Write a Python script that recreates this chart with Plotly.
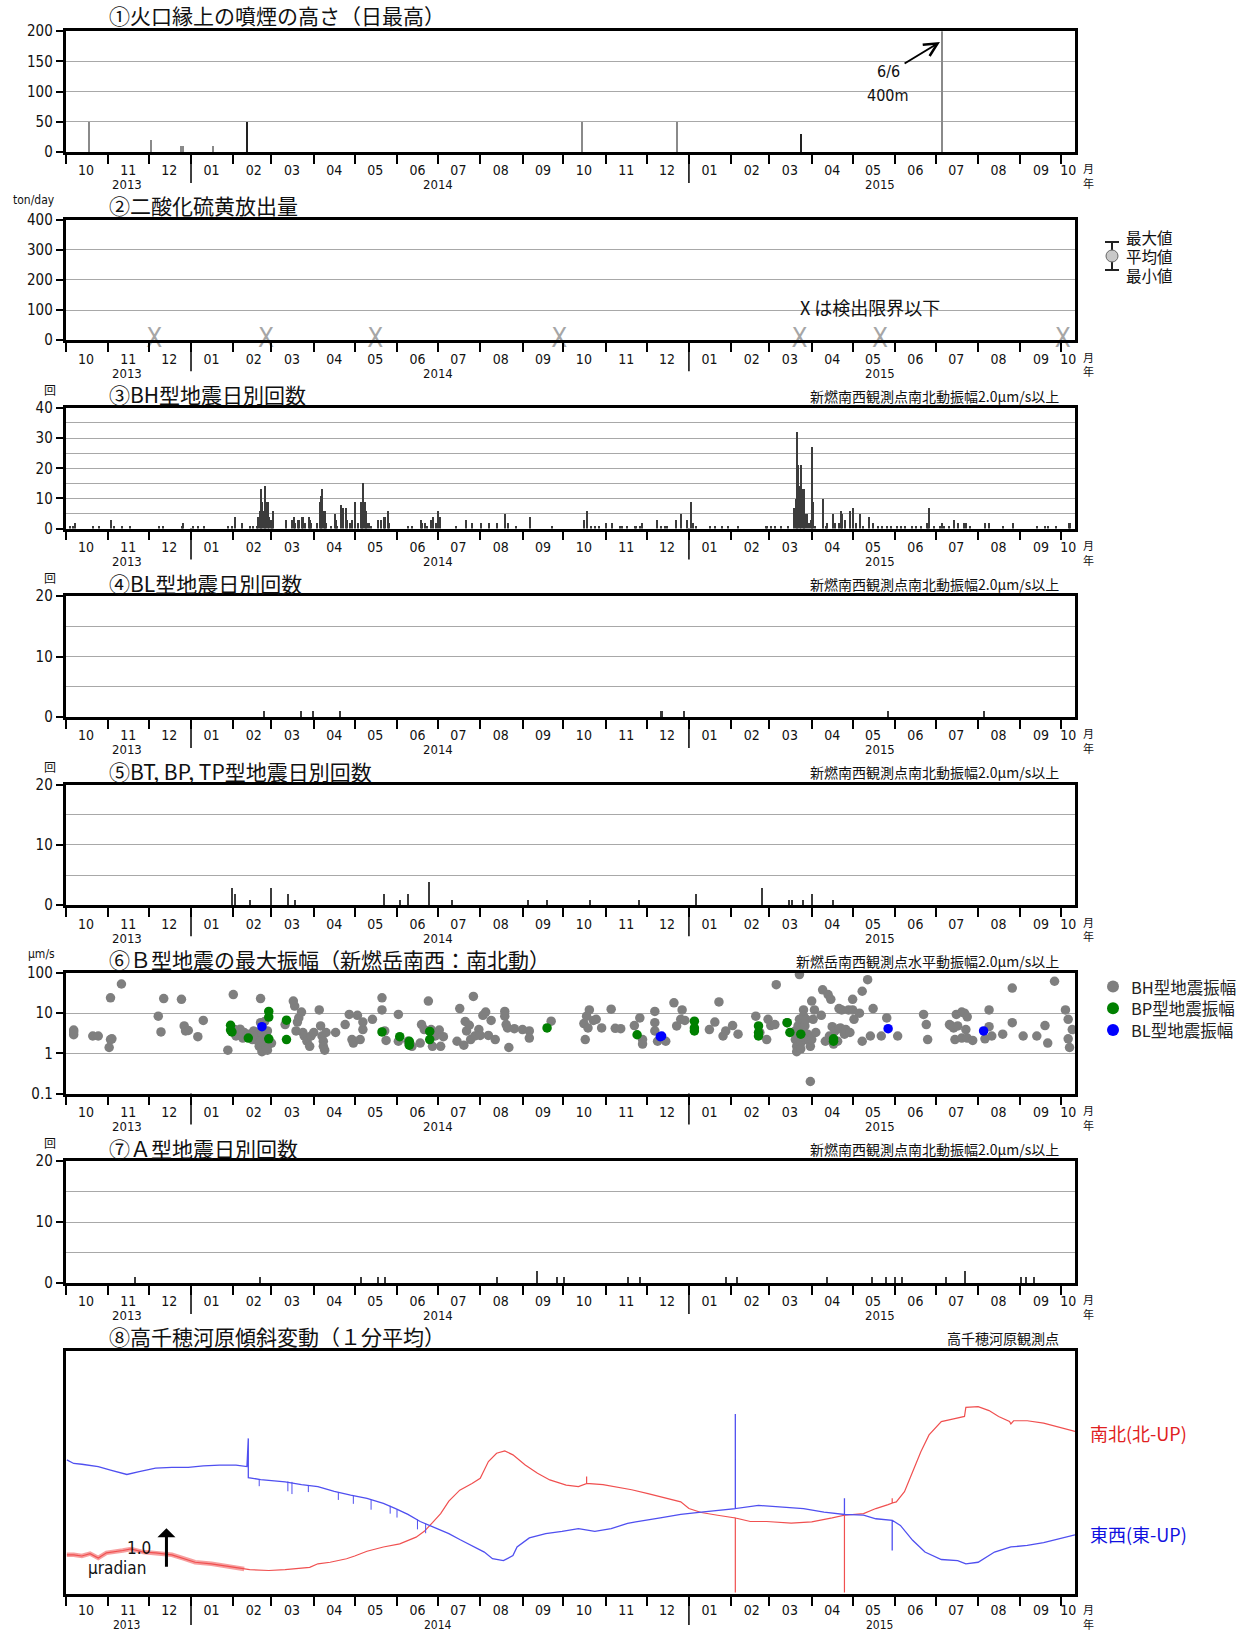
import plotly.graph_objects as go
import pandas as pd

# ---------------- axis / labels ----------------
X_RANGE = ["2013-10-01", "2015-10-11"]
MONTH_STARTS = [d.strftime("%Y-%m-%d") for d in pd.date_range("2013-10-01", "2015-10-01", freq="MS")]
MONTH_MIDS = [d.strftime("%Y-%m-16") for d in pd.date_range("2013-10-01", "2015-09-01", freq="MS")] + ["2015-10-06"]
MONTH_LABELS = [d.strftime("%m") for d in pd.date_range("2013-10-01", "2015-10-01", freq="MS")]
YEAR_LABELS = ["2013", "2014", "2015"]
YEAR_LABEL_DATES = ["2013-11-15", "2014-07-01", "2015-05-21"]
YEAR_BOUNDS = ["2014-01-01", "2015-01-01"]

TITLES = ["①火口縁上の噴煙の高さ（日最高）", "②二酸化硫黄放出量", "③BH型地震日別回数", "④BL型地震日別回数",
          "⑤BT, BP, TP型地震日別回数", "⑥Ｂ型地震の最大振幅（新燃岳南西：南北動）", "⑦Ａ型地震日別回数",
          "⑧高千穂河原傾斜変動（１分平均）"]
SUBTITLES = ["", "", "新燃南西観測点南北動振幅2.0μm/s以上", "新燃南西観測点南北動振幅2.0μm/s以上",
             "新燃南西観測点南北動振幅2.0μm/s以上", "新燃岳南西観測点水平動振幅2.0μm/s以上",
             "新燃南西観測点南北動振幅2.0μm/s以上", "高千穂河原観測点"]
UNITS = ["", "ton/day", "回", "回", "回", "μm/s", "回", ""]
UNIT_X = [0, 34, 50, 50, 50, 42, 50, 0]
AMP_LEGEND = ["BH型地震振幅", "BP型地震振幅", "BL型地震振幅"]
AMP_COLORS = ["#7f7f7f", "#008000", "#0000ff"]

# ---------------- ① plume height ----------------
PLUME_DATES = ["2013-10-18", "2013-12-02", "2013-12-24", "2013-12-26", "2014-01-17", "2014-02-11",
               "2014-10-14", "2014-12-23", "2015-03-24", "2015-07-05"]
PLUME_HEIGHTS = [50, 20, 10, 10, 10, 50, 50, 50, 30, 400]
PLUME_DARK = [False, False, False, False, False, True, False, False, True, False]

# ---------------- ② SO2 (below detection limit) ----------------
SO2_ND_DATES = ["2013-12-05", "2014-02-25", "2014-05-16", "2014-09-28", "2015-03-23", "2015-05-21", "2015-10-02"]

# ---------------- ③ BH daily counts ----------------
BH_DATES = ["2013-10-04", "2013-10-06", "2013-10-08", "2013-10-21", "2013-10-25", "2013-11-03", "2013-11-05",
            "2013-11-11", "2013-11-17", "2013-12-08", "2013-12-11", "2013-12-25", "2013-12-26", "2014-01-02",
            "2014-01-06", "2014-01-10", "2014-01-28", "2014-01-31", "2014-02-02", "2014-02-07", "2014-02-13",
            "2014-02-15", "2014-02-18", "2014-02-19", "2014-02-20", "2014-02-21", "2014-02-22", "2014-02-23",
            "2014-02-24", "2014-02-25", "2014-02-26", "2014-02-27", "2014-02-28", "2014-03-01", "2014-03-02",
            "2014-03-11", "2014-03-16", "2014-03-17", "2014-03-18", "2014-03-20", "2014-03-21", "2014-03-23",
            "2014-03-24", "2014-03-25", "2014-03-28", "2014-03-29", "2014-03-30", "2014-04-03", "2014-04-05",
            "2014-04-06", "2014-04-07", "2014-04-08", "2014-04-09", "2014-04-10", "2014-04-13", "2014-04-16",
            "2014-04-17", "2014-04-18", "2014-04-21", "2014-04-22", "2014-04-24", "2014-04-25", "2014-04-27",
            "2014-04-29", "2014-05-01", "2014-05-03", "2014-05-05", "2014-05-06", "2014-05-07", "2014-05-08",
            "2014-05-09", "2014-05-10", "2014-05-11", "2014-05-13", "2014-05-18", "2014-05-20", "2014-05-22",
            "2014-05-23", "2014-05-25", "2014-05-26", "2014-06-09", "2014-06-12", "2014-06-18", "2014-06-19",
            "2014-06-21", "2014-06-23", "2014-06-26", "2014-06-27", "2014-06-29", "2014-07-01", "2014-07-02",
            "2014-07-14", "2014-07-21", "2014-07-26", "2014-08-01", "2014-08-07", "2014-08-13", "2014-08-19",
            "2014-08-21", "2014-08-27", "2014-09-06", "2014-09-22", "2014-10-16", "2014-10-18", "2014-10-21",
            "2014-10-24", "2014-10-27", "2014-11-01", "2014-11-05", "2014-11-11", "2014-11-13", "2014-11-16",
            "2014-11-22", "2014-11-23", "2014-11-26", "2014-11-27", "2014-12-08", "2014-12-11", "2014-12-14",
            "2014-12-16", "2014-12-22", "2014-12-26", "2014-12-30", "2015-01-02", "2015-01-04", "2015-01-06",
            "2015-01-16", "2015-01-20", "2015-01-25", "2015-01-29", "2015-02-06", "2015-02-26", "2015-02-27",
            "2015-03-02", "2015-03-05", "2015-03-09", "2015-03-14", "2015-03-19", "2015-03-20", "2015-03-21",
            "2015-03-22", "2015-03-23", "2015-03-24", "2015-03-25", "2015-03-26", "2015-03-27", "2015-03-28",
            "2015-03-30", "2015-03-31", "2015-04-01", "2015-04-02", "2015-04-03", "2015-04-09", "2015-04-11",
            "2015-04-12", "2015-04-16", "2015-04-18", "2015-04-21", "2015-04-22", "2015-04-23", "2015-04-25",
            "2015-04-29", "2015-05-01", "2015-05-03", "2015-05-06", "2015-05-08", "2015-05-13", "2015-05-16",
            "2015-05-19", "2015-05-22", "2015-05-26", "2015-05-29", "2015-06-02", "2015-06-05", "2015-06-08",
            "2015-06-13", "2015-06-16", "2015-06-20", "2015-06-24", "2015-06-25", "2015-06-26", "2015-06-29",
            "2015-07-04", "2015-07-05", "2015-07-07", "2015-07-10", "2015-07-14", "2015-07-17", "2015-07-21",
            "2015-07-23", "2015-07-26", "2015-08-06", "2015-08-09", "2015-08-19", "2015-08-26", "2015-09-13",
            "2015-09-19", "2015-09-21", "2015-09-27", "2015-10-06", "2015-10-07"]
BH_COUNTS = [1, 1, 2, 1, 1, 3, 1,
             1, 1, 1, 1, 1, 2, 1,
             1, 1, 1, 1, 4, 2, 1,
             1, 1, 4, 6, 13, 9, 6,
             14, 9, 9, 4, 3, 2, 6,
             3, 3, 4, 2, 3, 3, 4,
             4, 2, 4, 3, 2, 2, 9,
             11, 13, 6, 6, 2, 1, 5,
             3, 1, 8, 7, 7, 3, 2,
             3, 9, 2, 9, 8, 15, 9,
             6, 2, 2, 1, 3, 3, 4,
             4, 6, 2, 1, 1, 3, 2,
             2, 1, 3, 4, 2, 6, 4,
             1, 3, 2, 2, 2, 2, 5,
             2, 1, 4, 1, 3, 6, 1,
             1, 1, 2, 2, 1, 1, 1,
             1, 1, 1, 2, 3, 1, 1,
             1, 3, 5, 3, 9, 2, 1,
             1, 1, 1, 1, 1, 1, 1,
             1, 1, 1, 1, 7, 10, 32,
             21, 14, 21, 13, 13, 5, 5,
             2, 3, 27, 9, 1, 10, 1,
             2, 5, 2, 2, 6, 5, 3,
             6, 7, 2, 5, 1, 4, 2,
             1, 1, 1, 1, 1, 1, 1,
             1, 1, 1, 2, 1, 7, 1,
             1, 2, 1, 1, 3, 2, 2,
             2, 1, 2, 2, 1, 2, 1,
             1, 1, 1, 2, 2]

# ---------------- ④ BL daily counts ----------------
BL_DATES = ["2014-02-23", "2014-03-22", "2014-03-31", "2014-04-20", "2014-12-11", "2014-12-12",
            "2014-12-28", "2015-05-27", "2015-08-05"]
BL_COUNTS = [1, 1, 1, 1, 1, 1, 1, 1, 1]

# ---------------- ⑤ BT/BP/TP daily counts ----------------
BT_DATES = ["2014-01-31", "2014-02-02", "2014-02-13", "2014-02-28", "2014-03-13", "2014-03-18", "2014-05-22",
            "2014-06-03", "2014-06-09", "2014-06-24", "2014-07-11", "2014-09-05", "2014-09-19", "2014-10-20",
            "2014-11-25", "2015-01-06", "2015-02-23", "2015-03-15", "2015-03-17", "2015-03-25", "2015-04-01",
            "2015-04-16"]
BT_COUNTS = [3, 2, 1, 3, 2, 1, 2, 1, 2, 4, 1, 1, 1, 1, 1, 2, 3, 1, 1, 1, 2, 1]

# ---------------- ⑥ B-type max amplitude ----------------
BH_AMP_DATES = ["2013-10-07", "2013-10-07", "2013-10-07", "2013-10-21", "2013-10-25", "2013-11-03", "2013-11-03",
                "2013-11-04", "2013-11-02", "2013-11-11", "2013-12-08", "2013-12-10", "2013-12-12", "2013-12-25",
                "2013-12-27", "2013-12-28", "2013-12-30", "2014-01-06", "2014-01-10", "2014-01-28", "2014-02-01",
                "2014-02-02", "2014-02-03", "2014-02-06", "2014-02-08", "2014-02-09", "2014-02-11", "2014-02-13",
                "2014-02-15", "2014-02-16", "2014-02-18", "2014-02-19", "2014-02-20", "2014-02-20", "2014-02-21",
                "2014-02-21", "2014-02-21", "2014-02-22", "2014-02-23", "2014-02-23", "2014-02-24", "2014-02-24",
                "2014-02-25", "2014-02-26", "2014-02-26", "2014-02-27", "2014-03-01", "2014-02-22", "2014-02-23",
                "2014-02-24", "2014-02-22", "2014-02-25", "2014-02-21", "2014-02-26",
                "2014-03-11", "2014-03-17", "2014-03-18", "2014-03-19", "2014-03-20", "2014-03-21", "2014-03-23",
                "2014-03-24", "2014-03-25", "2014-03-27", "2014-03-29", "2014-03-30", "2014-04-01", "2014-04-05",
                "2014-04-06", "2014-04-07", "2014-04-08", "2014-04-08", "2014-04-09", "2014-04-10", "2014-04-17",
                "2014-04-24", "2014-04-27", "2014-04-29", "2014-04-30", "2014-05-03", "2014-05-05", "2014-05-07",
                "2014-05-07", "2014-05-14", "2014-05-21", "2014-05-21", "2014-05-23", "2014-05-24", "2014-06-02",
                "2014-06-02", "2014-06-09", "2014-06-10", "2014-06-12", "2014-06-18", "2014-06-19", "2014-06-21",
                "2014-06-24", "2014-06-26", "2014-06-27", "2014-06-29", "2014-07-02", "2014-07-03", "2014-07-05",
                "2014-07-15", "2014-07-17", "2014-07-20", "2014-07-21", "2014-07-22", "2014-07-24", "2014-07-25",
                "2014-07-27", "2014-07-28", "2014-07-31", "2014-08-01", "2014-08-03", "2014-08-05", "2014-08-07",
                "2014-08-09", "2014-08-12", "2014-08-19", "2014-08-19", "2014-08-20", "2014-08-21", "2014-08-22",
                "2014-08-26", "2014-09-01", "2014-09-06", "2014-09-06", "2014-09-22", "2014-10-16", "2014-10-17",
                "2014-10-18", "2014-10-19", "2014-10-20", "2014-10-23", "2014-10-25", "2014-10-29", "2014-11-05",
                "2014-11-08", "2014-11-12", "2014-11-22", "2014-11-26", "2014-11-28", "2014-11-28", "2014-12-07",
                "2014-12-07", "2014-12-07", "2014-12-09", "2014-12-15", "2014-12-21", "2014-12-23", "2014-12-26",
                "2014-12-27", "2014-12-29", "2015-01-16", "2015-01-20", "2015-01-23", "2015-01-26", "2015-01-28",
                "2015-02-02", "2015-02-06", "2015-02-19", "2015-02-22", "2015-02-27", "2015-02-28", "2015-03-02",
                "2015-03-05", "2015-03-06", "2015-03-14", "2015-03-20", "2015-03-20", "2015-03-21", "2015-03-21",
                "2015-03-22", "2015-03-22", "2015-03-23", "2015-03-23", "2015-03-24", "2015-03-24", "2015-03-25",
                "2015-03-26", "2015-03-26", "2015-03-27", "2015-03-28", "2015-03-28", "2015-03-29", "2015-03-30",
                "2015-03-31", "2015-03-31", "2015-04-01", "2015-04-01", "2015-04-02", "2015-04-03", "2015-04-04",
                "2015-04-08", "2015-04-09", "2015-04-11", "2015-04-13", "2015-04-14", "2015-04-15", "2015-04-16",
                "2015-04-17", "2015-04-18", "2015-04-20", "2015-04-21", "2015-04-21", "2015-04-22", "2015-04-23",
                "2015-04-25", "2015-04-26", "2015-04-28", "2015-04-29", "2015-05-01", "2015-05-01", "2015-05-02",
                "2015-05-06", "2015-05-08", "2015-05-08", "2015-05-12", "2015-05-14", "2015-05-16", "2015-05-22",
                "2015-05-26", "2015-06-03", "2015-06-22", "2015-06-24", "2015-06-25", "2015-07-11", "2015-07-12",
                "2015-07-14", "2015-07-15", "2015-07-16", "2015-07-17", "2015-07-20", "2015-07-20", "2015-07-22",
                "2015-07-23", "2015-07-24", "2015-07-24", "2015-07-28", "2015-08-06", "2015-08-09", "2015-08-09",
                "2015-08-11", "2015-08-19", "2015-08-26", "2015-08-26", "2015-09-03", "2015-09-13", "2015-09-19",
                "2015-09-21", "2015-09-26", "2015-10-04", "2015-10-06", "2015-10-06", "2015-10-07", "2015-10-09"]
BH_AMP_VALUES = [3.8, 2.9, 3.4, 2.7, 2.7, 24, 2.2,
                 2.3, 1.4, 53, 8.4, 3.4, 23, 22,
                 4.8, 3.6, 3.7, 2.6, 6.6, 1.2, 29,
                 3.9, 2.7, 4.0, 2.4, 3.3, 2.7, 3.0,
                 2.2, 3.6, 2.2, 3.0, 1.5, 1.8, 2.7,
                 5.8, 23, 3.9, 2.4, 1.3, 1.5, 2.0,
                 2.7, 3.6, 2.2, 1.7, 1.8, 1.1, 1.2,
                 6.2, 3.0, 1.4, 2.0, 1.2,
                 5.2, 20, 15, 3.6, 6.0, 7.6, 10.6,
                 3.3, 2.7, 2.0, 1.5, 2.7, 3.3, 12,
                 4.8, 2.7, 2.0, 1.5, 1.2, 3.3, 3.3,
                 5.2, 9.3, 2.2, 1.8, 8.8, 2.2, 3.9,
                 6.0, 7.0, 24, 12, 3.6, 2.1, 9.3,
                 2.0, 2.0, 1.8, 1.5, 1.8, 5.2, 3.9,
                 20, 3.9, 1.5, 2.7, 3.8, 1.5, 2.6,
                 2.0, 13, 1.6, 6.2, 3.6, 5.0, 2.2,
                 26, 2.7, 3.9, 2.8, 8.8, 10.6, 2.8,
                 6.6, 2.2, 11, 8.4, 5.2, 4.3, 1.4,
                 4.1, 3.9, 3.6, 2.4, 6.3, 5.5, 2.2,
                 8.4, 4.3, 12, 6.6, 7.0, 4.3, 12.5,
                 4.2, 4.1, 4.9, 7.6, 2.2, 1.7, 11,
                 5.8, 3.6, 2.0, 2.0, 18, 4.8, 7.0,
                 12, 6.6, 3.9, 6.0, 19, 2.7, 3.6,
                 4.9, 3.0, 8.4, 3.3, 2.2, 7.0, 4.9,
                 5.2, 51, 5.8, 3.6, 2.2, 1.5, 1.1,
                 2.7, 4.8, 7.0, 91, 1.8, 1.3, 3.3,
                 12, 8.4, 4.8, 2.2, 7.0, 3.0, 2.2,
                 0.2, 1.5, 20, 2.2, 7.0, 12, 3.3,
                 8.8, 38, 2.0, 29, 2.7, 22, 4.6,
                 1.7, 3.6, 2.0, 4.1, 13, 4.3, 12,
                 3.0, 3.9, 12, 3.3, 12, 22, 7.0,
                 10, 35, 2.0, 68, 2.7, 13, 2.7,
                 7.6, 2.7, 9.3, 5.2, 2.2, 5.2, 4.9,
                 4.3, 2.2, 9.3, 4.8, 2.4, 10.6, 10,
                 3.9, 8.1, 2.4, 2.1, 2.3, 12, 4.6,
                 2.7, 3.0, 42, 5.8, 2.7, 2.7, 4.9,
                 1.8, 62, 12, 7.0, 2.3, 1.4, 3.9]
BP_AMP_DATES = ["2014-01-30", "2014-01-31", "2014-01-30", "2014-02-12", "2014-02-27", "2014-02-27", "2014-02-27",
                "2014-03-12", "2014-03-12", "2014-05-21", "2014-06-03", "2014-06-10", "2014-06-10", "2014-06-25",
                "2014-06-25", "2014-09-19", "2014-11-24", "2015-01-05", "2015-01-05", "2015-01-05", "2015-02-21",
                "2015-02-21", "2015-02-21", "2015-03-14", "2015-03-16", "2015-03-24", "2015-04-17", "2015-04-17"]
BP_AMP_VALUES = [5.0, 3.4, 3.8, 2.4, 11, 8.0, 2.3,
                 6.7, 2.2, 3.4, 2.6, 2.0, 1.6, 3.5,
                 2.2, 4.3, 2.9, 6.3, 4.3, 3.6, 4.8,
                 3.3, 2.7, 5.8, 3.3, 3.0, 2.3, 2.0]
BL_AMP_DATES = ["2014-02-22", "2014-12-11", "2014-12-12", "2015-05-27", "2015-08-05"]
BL_AMP_VALUES = [4.6, 2.6, 2.7, 4.1, 3.6]

# ---------------- ⑦ A-type daily counts ----------------
A_DATES = ["2013-11-21", "2014-02-20", "2014-05-05", "2014-05-18", "2014-05-23", "2014-08-13", "2014-09-11",
           "2014-09-26", "2014-10-01", "2014-11-17", "2014-11-26", "2015-01-28", "2015-02-05", "2015-04-12",
           "2015-05-15", "2015-05-25", "2015-06-01", "2015-06-06", "2015-07-08", "2015-07-22", "2015-09-01",
           "2015-09-05", "2015-09-11"]
A_COUNTS = [1, 1, 1, 1, 1, 1, 2, 1, 1, 1, 1, 1, 1, 1, 1, 1, 1, 1, 1, 2, 1, 1, 1]

# ---------------- ⑧ tilt (μradian, arbitrary offset) ----------------
NS_DATES = ["2013-10-02", "2013-10-07", "2013-10-13", "2013-10-19", "2013-10-25", "2013-10-31", "2013-11-12",
            "2013-11-18", "2013-11-27", "2013-12-06", "2013-12-18", "2013-12-27", "2014-01-04", "2014-01-16",
            "2014-01-28", "2014-02-09", "2014-02-13", "2014-02-27", "2014-03-11", "2014-03-29", "2014-04-04",
            "2014-04-13", "2014-04-25", "2014-05-01", "2014-05-10", "2014-05-22", "2014-06-03", "2014-06-15",
            "2014-06-21", "2014-06-27", "2014-07-03", "2014-07-09", "2014-07-17", "2014-07-26", "2014-08-01",
            "2014-08-07", "2014-08-13", "2014-08-19", "2014-08-25", "2014-09-03", "2014-09-12", "2014-09-21",
            "2014-10-03", "2014-10-12", "2014-10-18", "2014-10-18", "2014-10-18", "2014-10-30", "2014-11-11",
            "2014-11-20", "2014-12-02", "2014-12-14", "2014-12-26", "2015-01-01", "2015-01-10", "2015-01-22",
            "2015-02-04", "2015-02-04", "2015-02-04", "2015-02-15", "2015-02-27", "2015-03-17", "2015-04-01",
            "2015-04-16", "2015-04-25", "2015-04-25", "2015-04-25", "2015-05-09", "2015-05-18", "2015-05-27",
            "2015-05-30", "2015-05-30", "2015-05-30", "2015-06-02", "2015-06-08", "2015-06-14", "2015-06-20",
            "2015-06-26", "2015-07-05", "2015-07-14", "2015-07-22", "2015-07-23", "2015-08-01", "2015-08-09",
            "2015-08-16", "2015-08-24", "2015-08-25", "2015-08-27", "2015-09-06", "2015-09-18", "2015-09-30",
            "2015-10-11"]
NS_VALUES = [1.00, 1.00, 0.97, 1.03, 0.92, 1.05, 1.11,
             1.15, 1.07, 1.05, 1.00, 0.90, 0.81, 0.77,
             0.70, 0.64, 0.62, 0.60, 0.62, 0.68, 0.77,
             0.81, 0.90, 0.97, 1.09, 1.20, 1.28, 1.45,
             1.60, 1.82, 2.05, 2.37, 2.65, 2.82, 2.95,
             3.38, 3.59, 3.65, 3.55, 3.29, 3.08, 2.91,
             2.78, 2.74, 2.82, 3.00, 2.82, 2.79, 2.72,
             2.66, 2.56, 2.46, 2.35, 2.18, 2.08, 2.01,
             1.94, 0.04, 1.94, 1.85, 1.85, 1.81, 1.84,
             1.94, 2.01, 0.04, 2.01, 2.05, 2.18, 2.28,
             2.32, 2.44, 2.32, 2.35, 2.61, 3.12, 3.63,
             4.06, 4.40, 4.47, 4.53, 4.76, 4.78, 4.68,
             4.53, 4.40, 4.34, 4.42, 4.42, 4.36, 4.25,
             4.15]
NS_NOISY_UNTIL = 16  # early part of the NS record is noisy (drawn as a thick band)
EW_DATES = ["2013-10-02", "2013-10-07", "2013-10-13", "2013-10-25", "2013-11-03", "2013-11-15", "2013-11-24",
            "2013-12-06", "2013-12-18", "2013-12-30", "2014-01-10", "2014-01-22", "2014-02-03", "2014-02-11",
            "2014-02-12", "2014-02-12", "2014-02-21", "2014-03-11", "2014-03-23", "2014-04-04", "2014-04-16",
            "2014-04-28", "2014-05-10", "2014-05-22", "2014-05-31", "2014-06-09", "2014-06-18", "2014-06-27",
            "2014-07-09", "2014-07-17", "2014-07-26", "2014-08-04", "2014-08-10", "2014-08-18", "2014-08-25",
            "2014-08-28", "2014-09-06", "2014-09-18", "2014-09-30", "2014-10-12", "2014-10-24", "2014-11-05",
            "2014-11-17", "2014-11-23", "2014-12-11", "2014-12-26", "2015-01-10", "2015-01-25", "2015-02-04",
            "2015-02-04", "2015-02-04", "2015-02-21", "2015-03-11", "2015-03-26", "2015-04-10", "2015-04-25",
            "2015-04-25", "2015-04-25", "2015-05-09", "2015-05-18", "2015-05-30", "2015-05-30", "2015-05-30",
            "2015-06-05", "2015-06-14", "2015-06-23", "2015-07-05", "2015-07-17", "2015-07-23", "2015-08-01",
            "2015-08-13", "2015-08-25", "2015-09-06", "2015-09-18", "2015-09-30", "2015-10-11"]
EW_VALUES = [3.42, 3.33, 3.31, 3.25, 3.16, 3.05, 3.12,
             3.21, 3.23, 3.23, 3.27, 3.29, 3.29, 3.25,
             3.97, 2.97, 2.92, 2.86, 2.79, 2.74, 2.62,
             2.52, 2.44, 2.31, 2.18, 2.03, 1.85, 1.71,
             1.54, 1.39, 1.24, 1.07, 0.90, 0.85, 0.98,
             1.20, 1.43, 1.54, 1.60, 1.67, 1.60, 1.67,
             1.80, 1.84, 1.94, 2.03, 2.09, 2.15, 2.18,
             4.59, 2.18, 2.26, 2.21, 2.18, 2.09, 2.03,
             2.44, 2.03, 2.01, 1.92, 1.88, 1.11, 1.88,
             1.75, 1.37, 1.07, 0.88, 0.85, 0.77, 0.81,
             1.07, 1.20, 1.24, 1.31, 1.41, 1.51]
EW_SPIKE_DATES = ["2014-02-20", "2014-03-13", "2014-03-16", "2014-03-28", "2014-04-19", "2014-04-30",
                  "2014-05-13", "2014-05-27", "2014-06-01", "2014-06-16", "2014-06-22"]
EW_SPIKE_BASE = [2.92, 2.87, 2.86, 2.77, 2.60, 2.50, 2.40, 2.25, 2.15, 1.90, 1.80]
EW_SPIKE_TIP = [2.75, 2.62, 2.55, 2.60, 2.40, 2.30, 2.15, 2.05, 1.95, 1.65, 1.55]

# ---------------- layout geometry (pixels) ----------------
W, H = 1259, 1631
X0, X1 = 65.5, 1075.0
PANELS = [(31.2, 151.9), (219.5, 340.2), (407.9, 528.6), (596.2, 716.9),
          (784.5, 905.2), (972.9, 1093.6), (1161.2, 1282.9), (1350.6, 1594.0)]
TITLE_Y = [15.0, 205, 394, 582.7, 771, 959, 1147.7, 1336]
YEAR_OFFSET = [33, 33, 33, 33, 33, 33, 33, 30.5]
MONTH_LABEL_GAP = [4, 4, 4, 4, 4, 4, 4, 1]
MONTH_CHAR_Y = [16.5, 16.5, 16.5, 16.5, 16.5, 16.5, 16.5, 15]

NUM = "'DejaVu Sans Condensed', 'Liberation Sans Narrow', 'Noto Sans CJK JP', sans-serif"
JP = "'Noto Sans CJK JP', sans-serif"
DAY_MS = 86400000


def px(v):
    return v / W


def py(v):
    return 1 - v / H


fig = go.Figure()


def names(i):
    return ("x" if i == 1 else f"x{i}"), ("y" if i == 1 else f"y{i}")


# ① plume
xa, ya = names(1)
fig.add_trace(go.Bar(x=PLUME_DATES, y=PLUME_HEIGHTS, width=DAY_MS * 0.7,
                     marker=dict(color=["#222222" if d else "#8a8a8a" for d in PLUME_DARK], line=dict(width=0)),
                     xaxis=xa, yaxis=ya, showlegend=False))

# ② SO2 below detection
xa, ya = names(2)
fig.add_trace(go.Scatter(x=SO2_ND_DATES, y=[0] * len(SO2_ND_DATES), mode="text", text=["X"] * len(SO2_ND_DATES),
                         textfont=dict(family=NUM, size=26, color="#a6a6a6"), textposition="middle center",
                         cliponaxis=False, xaxis=xa, yaxis=ya, showlegend=False))

# ③ ④ ⑤ ⑦ daily counts
for i, (dts, cnt) in zip([3, 4, 5, 7], [(BH_DATES, BH_COUNTS), (BL_DATES, BL_COUNTS),
                                        (BT_DATES, BT_COUNTS), (A_DATES, A_COUNTS)]):
    xa, ya = names(i)
    fig.add_trace(go.Bar(x=dts, y=cnt, width=DAY_MS * 0.9, marker=dict(color="#3c3c3c", line=dict(width=0)),
                         xaxis=xa, yaxis=ya, showlegend=False))

# ⑥ amplitudes
xa, ya = names(6)
for dts, vals, col, nm in zip([BH_AMP_DATES, BP_AMP_DATES, BL_AMP_DATES],
                              [BH_AMP_VALUES, BP_AMP_VALUES, BL_AMP_VALUES], AMP_COLORS, AMP_LEGEND):
    fig.add_trace(go.Scatter(x=dts, y=vals, mode="markers", name=nm,
                             marker=dict(color=col, size=9.5, line=dict(width=0)),
                             xaxis=xa, yaxis=ya, showlegend=False, cliponaxis=True))

# ⑧ tilt
xa, ya = names(8)
fig.add_trace(go.Scatter(x=NS_DATES[:NS_NOISY_UNTIL], y=NS_VALUES[:NS_NOISY_UNTIL], mode="lines",
                         line=dict(color="rgba(240,80,80,0.55)", width=4.5),
                         xaxis=xa, yaxis=ya, showlegend=False, hoverinfo="skip"))
fig.add_trace(go.Scatter(x=NS_DATES, y=NS_VALUES, mode="lines", line=dict(color="#f05050", width=1.2),
                         xaxis=xa, yaxis=ya, showlegend=False))
fig.add_trace(go.Scatter(x=EW_DATES, y=EW_VALUES, mode="lines", line=dict(color="#4f4ff0", width=1.3),
                         xaxis=xa, yaxis=ya, showlegend=False))
sx, sy = [], []
for d, b, t in zip(EW_SPIKE_DATES, EW_SPIKE_BASE, EW_SPIKE_TIP):
    sx += [d, d, None]
    sy += [b, t, None]
fig.add_trace(go.Scatter(x=sx, y=sy, mode="lines", line=dict(color="#4f4ff0", width=1),
                         xaxis=xa, yaxis=ya, showlegend=False))

# ---------------- axes ----------------
Y_SETTINGS = {
    1: dict(range=[0, 200], tickvals=[0, 50, 100, 150, 200], minor=None),
    2: dict(range=[0, 400], tickvals=[0, 100, 200, 300, 400], minor=None),
    3: dict(range=[0, 40], tickvals=[0, 10, 20, 30, 40], minor=[5, 15, 25, 35]),
    4: dict(range=[0, 20], tickvals=[0, 10, 20], minor=[5, 15]),
    5: dict(range=[0, 20], tickvals=[0, 10, 20], minor=[5, 15]),
    6: None,
    7: dict(range=[0, 20], tickvals=[0, 10, 20], minor=[5, 15]),
    8: None,
}

layout = dict(width=W, height=H, margin=dict(l=0, r=0, t=0, b=0, pad=0, autoexpand=False),
              paper_bgcolor="white", plot_bgcolor="white", showlegend=False,
              bargap=0, barmode="overlay")
shapes, annotations = [], []

for i in range(1, 9):
    top, bot = PANELS[i - 1]
    xa, ya = names(i)
    xkey = "xaxis" if i == 1 else f"xaxis{i}"
    ykey = "yaxis" if i == 1 else f"yaxis{i}"
    layout[xkey] = dict(domain=[px(X0), px(X1)], anchor=ya, type="date", range=X_RANGE, automargin=False,
                        tickmode="array", tickvals=MONTH_MIDS, ticktext=MONTH_LABELS,
                        ticks="outside", ticklen=MONTH_LABEL_GAP[i - 1], tickcolor="rgba(0,0,0,0)",
                        tickfont=dict(family=NUM, size=14, color="#111"),
                        showline=True, linecolor="black", linewidth=2.5, mirror=True,
                        showgrid=False, zeroline=False, fixedrange=True,
                        minor=dict(tickmode="array", tickvals=MONTH_STARTS, ticks="outside", ticklen=9,
                                   tickwidth=1.5, tickcolor="black", showgrid=False))
    ydom = [py(bot), py(top)]
    base_y = dict(domain=ydom, anchor=xa, automargin=False, showline=True, linecolor="black", linewidth=2.5,
                  mirror=True, zeroline=False, fixedrange=True, tickfont=dict(family=NUM, size=15, color="#111"),
                  ticks="outside", ticklen=7, tickwidth=1.5, tickcolor="black",
                  gridcolor="#a8a8a8", gridwidth=1)
    s = Y_SETTINGS[i]
    if i == 6:
        base_y.update(type="log", range=[-1, 2], tickmode="array", tickvals=[0.1, 1, 10, 100],
                      ticktext=["0.1", "1", "10", "100"], showgrid=True)
    elif i == 8:
        base_y.update(range=[0, 6.21], showticklabels=False, ticks="", showgrid=False)
    else:
        base_y.update(range=s["range"], tickmode="array", tickvals=s["tickvals"], showgrid=True)
        if s["minor"]:
            base_y["minor"] = dict(tickmode="array", tickvals=s["minor"], ticks="", showgrid=True,
                                   gridcolor="#a8a8a8", gridwidth=1)
    layout[ykey] = base_y

    # long tick at year boundaries
    for d in YEAR_BOUNDS:
        shapes.append(dict(type="line", xref=xa, yref="paper", x0=d, x1=d, y0=py(bot), y1=py(bot + 31),
                           line=dict(color="black", width=1.5)))
    # year labels
    ysize = 13 if i < 8 else 12
    for t, d in zip(YEAR_LABELS, YEAR_LABEL_DATES):
        annotations.append(dict(text=t, x=d, xref=xa, y=py(bot + YEAR_OFFSET[i - 1]), yref="paper",
                                showarrow=False, font=dict(family=NUM, size=ysize, color="#111"),
                                xanchor="center", yanchor="middle"))
    annotations.append(dict(text="月", x=px(1088), xref="paper", y=py(bot + MONTH_CHAR_Y[i - 1]), yref="paper",
                            showarrow=False, font=dict(family=JP, size=11, color="#111"),
                            xanchor="center", yanchor="middle"))
    annotations.append(dict(text="年", x=px(1088), xref="paper", y=py(min(bot + 31, 1623.5)), yref="paper",
                            showarrow=False, font=dict(family=JP, size=11, color="#111"),
                            xanchor="center", yanchor="middle"))
    # title
    annotations.append(dict(text=TITLES[i - 1], x=px(107), xref="paper", y=py(TITLE_Y[i - 1]), yref="paper",
                            showarrow=False, font=dict(family=JP, size=21, color="#111"),
                            xanchor="left", yanchor="middle"))
    if SUBTITLES[i - 1]:
        annotations.append(dict(text=SUBTITLES[i - 1], x=px(1061), xref="paper", y=py(TITLE_Y[i - 1] + 1.5),
                                yref="paper", showarrow=False, font=dict(family=JP, size=14, color="#111"),
                                xanchor="right", yanchor="middle"))
    if UNITS[i - 1]:
        annotations.append(dict(text=UNITS[i - 1], x=px(UNIT_X[i - 1]), xref="paper", y=py(TITLE_Y[i - 1] - 5),
                                yref="paper", showarrow=False,
                                font=dict(family=NUM if UNITS[i - 1] != "回" else JP, size=12, color="#111"),
                                xanchor="center", yanchor="middle"))

# ① annotation arrow 6/6 400m
annotations.append(dict(x="2015-07-04", y=182, xref="x", yref="y", ax="2015-06-07", ay=145, axref="x",
                        ayref="y", showarrow=True, arrowhead=5, arrowsize=1.3, arrowwidth=2, arrowcolor="black",
                        text=""))
annotations.append(dict(x="2015-05-27", y=134, xref="x", yref="y", text="6/6", showarrow=False,
                        font=dict(family=NUM, size=16, color="#111")))
annotations.append(dict(x="2015-05-27", y=93, xref="x", yref="y", text="400m", showarrow=False,
                        font=dict(family=NUM, size=16, color="#111")))

# ② note and min/mean/max legend
annotations.append(dict(x="2015-05-14", y=110, xref="x2", yref="y2", text="X は検出限界以下", showarrow=False,
                        font=dict(family=JP, size=18, color="#111")))
for t, yy in zip(["最大値", "平均値", "最小値"], [237, 256, 275]):
    annotations.append(dict(text=t, x=px(1124), xref="paper", y=py(yy), yref="paper", showarrow=False,
                            font=dict(family=JP, size=15.5, color="#111"), xanchor="left", yanchor="middle"))
shapes += [
    dict(type="line", xref="paper", yref="paper", x0=px(1112), x1=px(1112), y0=py(242), y1=py(270),
         line=dict(color="#222", width=2)),
    dict(type="line", xref="paper", yref="paper", x0=px(1105), x1=px(1119), y0=py(242), y1=py(242),
         line=dict(color="#222", width=2)),
    dict(type="line", xref="paper", yref="paper", x0=px(1105), x1=px(1119), y0=py(270), y1=py(270),
         line=dict(color="#222", width=2)),
    dict(type="circle", xref="paper", yref="paper", x0=px(1106), x1=px(1118), y0=py(262), y1=py(250),
         fillcolor="#c8c8c8", line=dict(color="#666", width=1)),
]

# ⑥ legend (drawn beside the panel)
for k, (t, col) in enumerate(zip(AMP_LEGEND, AMP_COLORS)):
    yc = 986.5 + 21.8 * k
    shapes.append(dict(type="circle", xref="paper", yref="paper", x0=px(1107), x1=px(1119),
                       y0=py(yc + 6), y1=py(yc - 6), fillcolor=col, line=dict(width=0)))
    annotations.append(dict(text=t, x=px(1129), xref="paper", y=py(yc), yref="paper", showarrow=False,
                            font=dict(family=JP, size=16.5, color="#222"), xanchor="left", yanchor="middle"))

# ⑧ scale bar and labels
annotations.append(dict(x="2013-12-14", y=1.68, xref="x8", yref="y8", ax="2013-12-14", ay=0.66, axref="x8",
                        ayref="y8", showarrow=True, arrowhead=1, arrowsize=1, arrowwidth=3, arrowcolor="black",
                        text=""))
annotations.append(dict(x="2013-11-24", y=1.17, xref="x8", yref="y8", text="1.0", showarrow=False,
                        font=dict(family=NUM, size=17, color="#111")))
annotations.append(dict(x="2013-11-08", y=0.66, xref="x8", yref="y8", text="μradian", showarrow=False,
                        font=dict(family=NUM, size=17, color="#111")))
annotations.append(dict(text="南北(北-UP)", x=px(1088), xref="paper", y=py(1433), yref="paper",
                        showarrow=False, font=dict(family=JP, size=18, color="#e02020"), xanchor="left",
                        yanchor="middle"))
annotations.append(dict(text="東西(東-UP)", x=px(1088), xref="paper", y=py(1534), yref="paper",
                        showarrow=False, font=dict(family=JP, size=18, color="#1010e0"), xanchor="left",
                        yanchor="middle"))

layout["shapes"] = shapes
layout["annotations"] = annotations
fig.update_layout(**layout)
fig.write_html("out.html")
